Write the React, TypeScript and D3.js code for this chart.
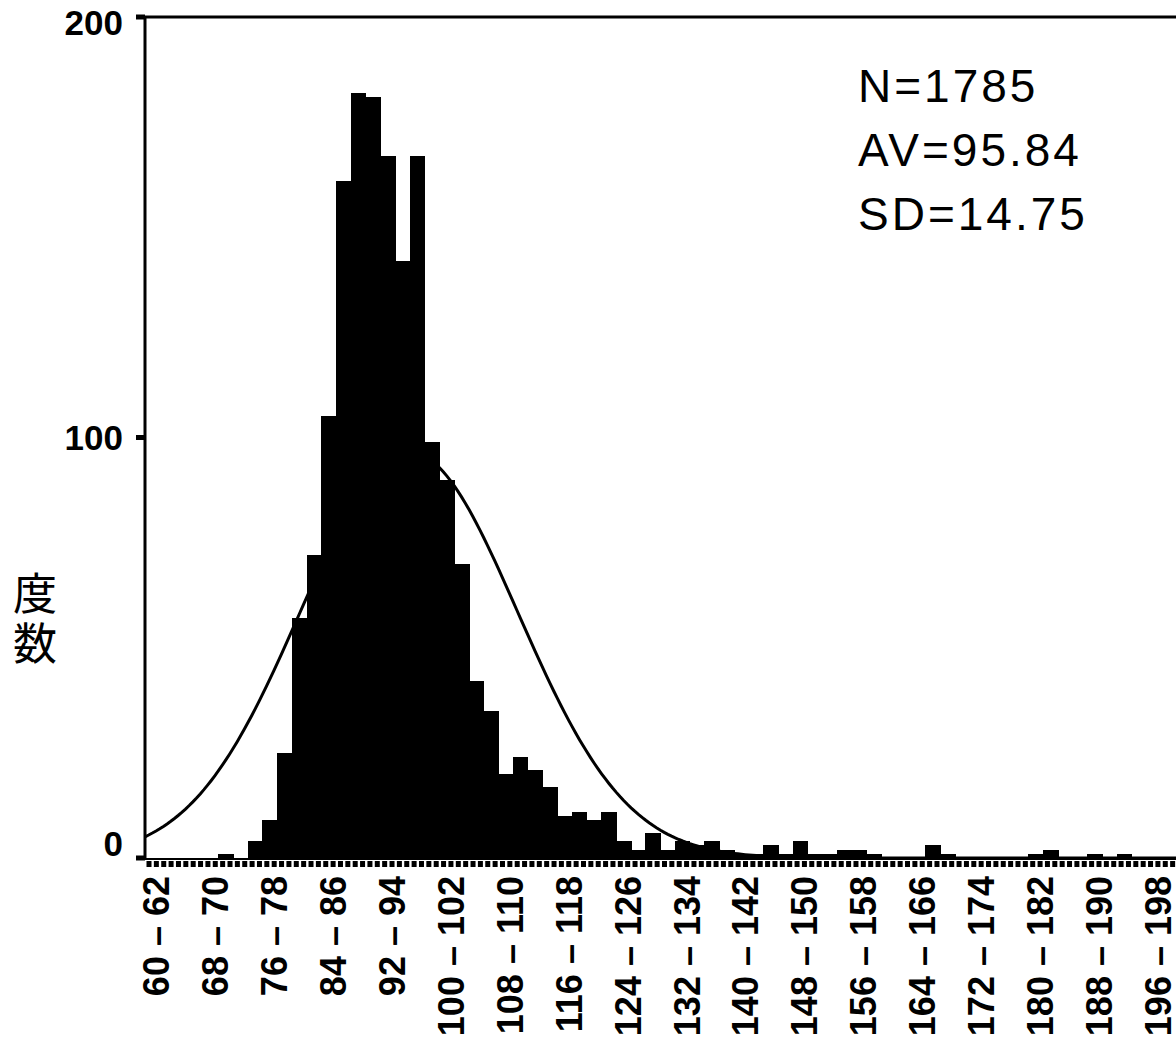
import React from 'react';
import * as d3 from 'd3';

// histogram bins (lower bound of each 2-wide class) and their counts
const binLows = [
  60, 62, 64, 66, 68, 70, 72, 74, 76, 78, 80, 82, 84, 86, 88, 90, 92, 94, 96, 98,
  100, 102, 104, 106, 108, 110, 112, 114, 116, 118, 120, 122, 124, 126, 128, 130, 132, 134, 136, 138,
  140, 142, 144, 146, 148, 150, 152, 154, 156, 158, 160, 162, 164, 166, 168, 170, 172, 174, 176, 178,
  180, 182, 184, 186, 188, 190, 192, 194, 196, 198,
];
const counts = [
  0, 0, 0, 0, 0, 1, 0, 4, 9, 25,
  57, 72, 105, 161, 182, 181, 167, 142, 167, 99,
  90, 70, 42, 35, 20, 24, 21, 17, 10, 11,
  9, 11, 4, 2, 6, 2, 4, 3, 4, 2,
  1, 1, 3, 1, 4, 1, 1, 2, 2, 1,
  0, 0, 0, 3, 1, 0, 0, 0, 0, 0,
  1, 2, 0, 0, 1, 0, 1, 0, 0, 0,
];
const labelLows = [60, 68, 76, 84, 92, 100, 108, 116, 124, 132, 140, 148, 156, 164, 172, 180, 188, 196];
const yTicks = [0, 100, 200];
const statN = 1785;
const statAV = 95.84;
const statSD = 14.75;
const binWidth = 2;

const W = 1176;
const H = 1043;
const left = 145;
const top = 17;
const bottom = 858;

export default function App() {
  const x = d3.scaleLinear().domain([60, 200]).range([left, W]);
  const y = d3.scaleLinear().domain([0, 200]).range([bottom, top]);

  // fitted normal curve from N / AV / SD
  const pts = d3.range(60, 200.01, 0.5).map((v) => {
    const z = (v - statAV) / statSD;
    return [v, (statN * binWidth) / (statSD * Math.sqrt(2 * Math.PI)) * Math.exp(-0.5 * z * z)];
  });
  const line = d3.line<number[]>().x((d) => x(d[0])).y((d) => y(d[1]));

  const font = '"Liberation Sans", Arial, sans-serif';

  return (
    <svg width={W} height={H} style={{ position: 'absolute', left: 0, top: 0, background: '#fff' }}>
      {/* frame */}
      <line x1={left} x2={W} y1={top} y2={top} stroke="#000" strokeWidth={3} />
      <line x1={left} x2={left} y1={top} y2={bottom + 2} stroke="#000" strokeWidth={3} />
      <line x1={left} x2={W} y1={bottom + 1} y2={bottom + 1} stroke="#000" strokeWidth={2} />

      {/* curve */}
      <path d={line(pts) || ''} fill="none" stroke="#000" strokeWidth={3} />

      {/* bars */}
      {counts.map((c, i) =>
        c > 0 ? (
          <rect
            key={i}
            x={x(binLows[i]) - 0.5}
            width={x(binLows[i] + binWidth) - x(binLows[i]) + 1}
            y={y(c)}
            height={y(0) - y(c) + 1}
            fill="#000"
            shapeRendering="crispEdges"
          />
        ) : null
      )}

      {/* bottom tick row */}
      {d3.range(60, 200, 1).map((v) => (
        <rect key={v} x={x(v) + 1.5} y={bottom + 3} width={5} height={6} fill="#000" />
      ))}

      {/* y ticks */}
      {yTicks.map((t) => (
        <g key={t}>
          <line x1={left - 9} x2={left} y1={y(t)} y2={y(t)} stroke="#000" strokeWidth={5} />
          <text
            x={123}
            y={t === 0 ? y(t) - 15 : t === 200 ? y(t) + 5 : y(t)}
            dy="0.36em"
            textAnchor="end"
            fontFamily={font}
            fontWeight="bold"
            fontSize={35}
          >
            {t}
          </text>
        </g>
      ))}

      {/* x labels */}
      {labelLows.map((v) => (
        <text
          key={v}
          transform={`translate(${x(v + binWidth / 2) + 4},${bottom + 18}) rotate(-90)`}
          dy="0.36em"
          textAnchor="end"
          fontFamily={font}
          fontWeight="bold"
          fontSize={36}
        >
          {`${v} – ${v + binWidth}`}
        </text>
      ))}

      {/* y axis title */}
      <text
        x={35}
        y={621}
        textAnchor="middle"
        fontFamily='"Noto Sans CJK JP", sans-serif'
        fontSize={44}
        letterSpacing={6}
        style={{ writingMode: 'vertical-rl' }}
      >
        度数
      </text>

      {/* stats */}
      {[`N=${statN}`, `AV=${statAV}`, `SD=${statSD}`].map((s, i) => (
        <text key={s} x={858} y={102 + i * 64} fontFamily={font} fontSize={46} letterSpacing={3}>
          {s}
        </text>
      ))}
    </svg>
  );
}
